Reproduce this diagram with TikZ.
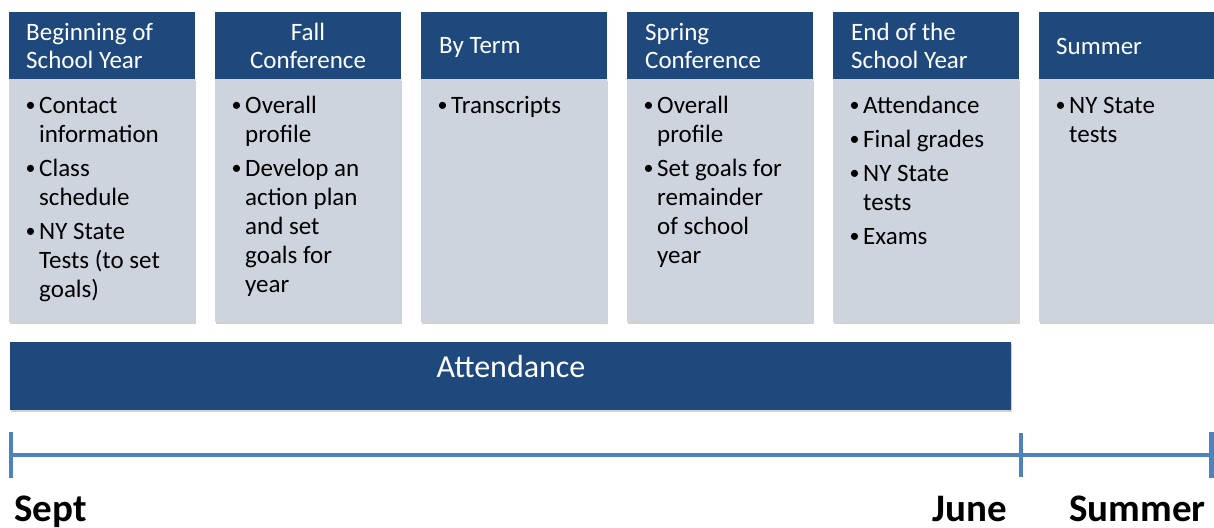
\documentclass[tikz,border=0pt]{standalone}
\usepackage{fontspec}
\setmainfont{Carlito}
\usetikzlibrary{shadows}
\definecolor{hdr}{RGB}{31,73,125}
\definecolor{bdy}{RGB}{206,212,222}
\definecolor{tlc}{RGB}{79,129,189}
\newcommand\bul{\makebox[14pt][l]{\hspace{0.5pt}\raisebox{1.2pt}{\fontsize{20}{20}\selectfont\textbullet}}}
\begin{document}
\begin{tikzpicture}[x=1pt,y=-1pt,
  boxshadow/.style={drop shadow={shadow xshift=1pt, shadow yshift=-1.5pt, fill=black, opacity=0.18}},
  hbox/.style={fill=hdr, minimum width=186pt, minimum height=67pt, inner sep=0pt, anchor=north west},
  bbox/.style={fill=bdy, minimum width=186pt, minimum height=243pt, inner sep=0pt, anchor=north west, boxshadow},
  htxt/.style={text=white, inner sep=0pt, anchor=base west, font=\fontsize{25}{28}\selectfont},
  btxt/.style={text=black, inner sep=0pt, anchor=base west, font=\fontsize{25}{29}\selectfont},
  tline/.style={draw=tlc, line width=4.5pt},
  tlabel/.style={inner sep=0pt, font=\fontsize{39}{44}\selectfont\bfseries},
  attbar/.style={fill=hdr, minimum width=1001pt, minimum height=68pt, inner sep=0pt, anchor=north west, boxshadow}
]
\useasboundingbox (0,0) rectangle (1214,527);
\clip (0,0) rectangle (1214,527);

% bodies
\node[bbox] (b1) at (9,79) {};
\node[bbox] (b2) at (215,79) {};
\node[bbox] (b3) at (421,79) {};
\node[bbox] (b4) at (627,79) {};
\node[bbox] (b5) at (833,79) {};
\node[bbox] (b6) at (1039,79) {};

% headers
\node[hbox] (h1) at (9,12) {};
\node[hbox] (h2) at (215,12) {};
\node[hbox] (h3) at (421,12) {};
\node[hbox] (h4) at (627,12) {};
\node[hbox] (h5) at (833,12) {};
\node[hbox] (h6) at (1039,12) {};

% header texts
\node[htxt] (ht1) at (26,41) {\begin{tabular}[t]{@{}l@{}}Beginning of\\School Year\end{tabular}};
\node[htxt, anchor=base] (ht2) at (308,41) {\begin{tabular}[t]{@{}c@{}}Fall\\Conference\end{tabular}};
\node[htxt] (ht3) at (439,54) {By Term};
\node[htxt] (ht4) at (645,41) {\begin{tabular}[t]{@{}l@{}}Spring\\Conference\end{tabular}};
\node[htxt] (ht5) at (851,41) {\begin{tabular}[t]{@{}l@{}}End of the\\School Year\end{tabular}};
\node[htxt] (ht6) at (1056,55) {Summer};

% body texts
\node[btxt] (bt1) at (25,113) {\begin{tabular}[t]{@{}l@{}l@{}}
\bul & Contact\\ & information\\[5pt]
\bul & Class\\ & schedule\\[5pt]
\bul & NY State\\ & Tests (to set\\ & goals)\end{tabular}};
\node[btxt] (bt2) at (231,113) {\begin{tabular}[t]{@{}l@{}l@{}}
\bul & Overall\\ & profile\\[5pt]
\bul & Develop an\\ & action plan\\ & and set\\ & goals for\\ & year\end{tabular}};
\node[btxt] (bt3) at (437,113) {\begin{tabular}[t]{@{}l@{}l@{}}
\bul & Transcripts\end{tabular}};
\node[btxt] (bt4) at (643,113) {\begin{tabular}[t]{@{}l@{}l@{}}
\bul & Overall\\ & profile\\[5pt]
\bul & Set goals for\\ & remainder\\ & of school\\ & year\end{tabular}};
\node[btxt] (bt5) at (849,113) {\begin{tabular}[t]{@{}l@{}l@{}}
\bul & Attendance\\[5pt]
\bul & Final grades\\[5pt]
\bul & NY State\\ & tests\\[5pt]
\bul & Exams\end{tabular}};
\node[btxt] (bt6) at (1055,113) {\begin{tabular}[t]{@{}l@{}l@{}}
\bul & NY State\\ & tests\end{tabular}};

% attendance bar
\node[attbar] (att) at (10,342) {};
\node[inner sep=0pt, anchor=base, text=white, font=\fontsize{32}{36}\selectfont] (attt) at (511,377) {Attendance};

% timeline
\coordinate (t0) at (11,455);
\coordinate (tj) at (1021,455);
\coordinate (te) at (1211.5,455);
\draw[tline] (t0) -- (tj) -- (te);
\draw[tline] (t0) ++(0,-23) -- ++(0,46);
\draw[tline] (tj) ++(0,-22) -- ++(0,44);
\draw[tline] (te) ++(0,-23) -- ++(0,46);

% labels
\node[tlabel, anchor=base west] (sept) at (14,521) {Sept};
\node[tlabel, anchor=base east] (june) at (1007,521) {June};
\node[tlabel, anchor=base east] (summer) at (1206,521) {Summer};
\end{tikzpicture}
\end{document}
